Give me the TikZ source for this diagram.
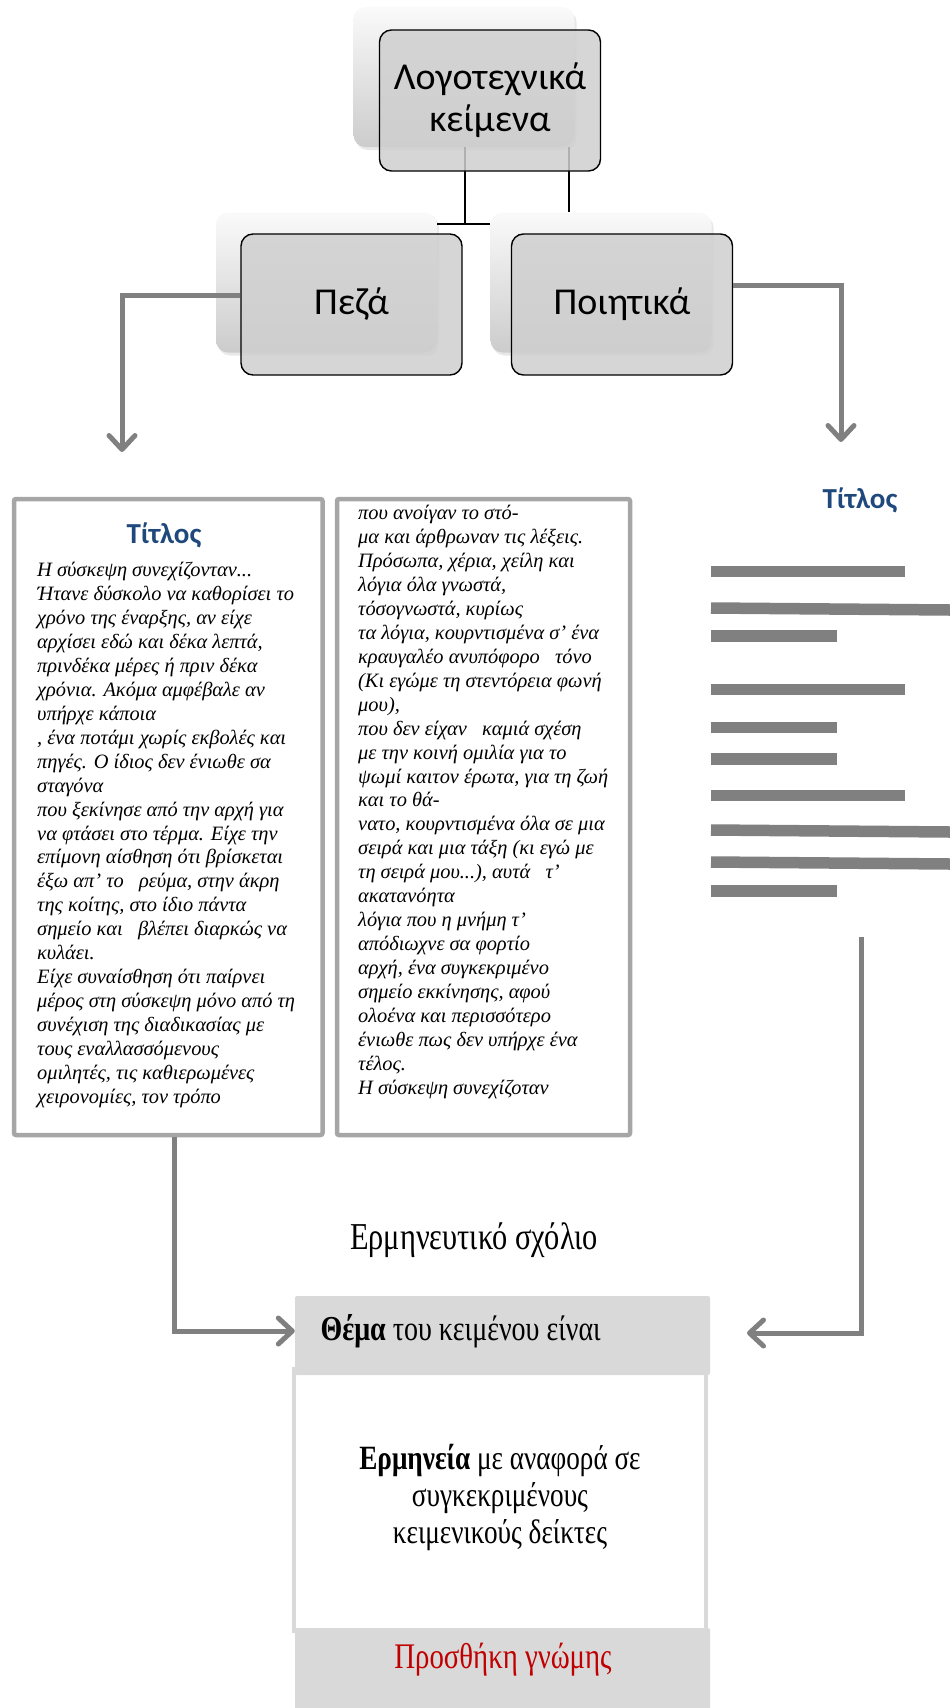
\documentclass[tikz,border=0pt]{standalone}
\usepackage{fontspec}
\setmainfont{Liberation Serif}
\newfontfamily\boxsans{Carlito}
\newfontfamily\narrowserif[FakeStretch=0.8]{Liberation Serif}
\usetikzlibrary{arrows.meta,shadows}
\definecolor{tilegray}{HTML}{CFCFCF}
\definecolor{framegray}{HTML}{A6A6A6}
\definecolor{arrowgray}{HTML}{808080}
\definecolor{bandgray}{HTML}{D9D9D9}
\definecolor{titleblue}{HTML}{1F497D}
\definecolor{opinionred}{HTML}{C00000}
\tikzset{
  ghost/.style={rounded corners=12pt, top color=white!98!black, bottom color=white!80!black,
                minimum width=221pt, minimum height=140pt,
                drop shadow={opacity=0.18, shadow xshift=2pt, shadow yshift=-3pt}},
  tile/.style={draw, line width=1.4pt, rounded corners=12pt, fill=tilegray, fill opacity=0.85,
               text opacity=1, minimum width=221pt, minimum height=141pt, align=center,
               font=\boxsans\fontsize{38}{42}\selectfont},
  textframe/.style={draw=framegray, line width=4.5pt, rounded corners=2pt, minimum height=636pt},
  prose/.style={anchor=north west, inner sep=0pt, align=left,
                font=\itshape\fontsize{20.4}{23.95}\selectfont},
  heading/.style={text=titleblue, font=\boxsans\bfseries\fontsize{29}{32}\selectfont},
  flow/.style={draw=arrowgray, line width=5pt, -{Straight Barb[length=14pt,width=26pt,round]}},
  bar/.style={draw=arrowgray, line width=11.5pt},
  band/.style={fill=bandgray, rounded corners=2pt, minimum width=415pt},
  commentary/.style={font=\narrowserif\fontsize{34}{37}\selectfont}
}

\begin{document}
\begin{tikzpicture}[x=1pt, y=-1pt]
  \useasboundingbox (0,0) rectangle (950,1708);
  % org chart
  \node[ghost] (litg) at (464,77) {};
  \node[ghost] (pezg) at (326.5,282.5) {};
  \node[ghost] (poig) at (601,282.5) {};
  \coordinate (bus) at (465,224);
  \coordinate (drop) at (569,212);
  \draw[line width=1.3pt] (litg.south -| bus) -- (bus);
  \draw[line width=1.3pt] (litg.south -| drop) -- (drop);
  \draw[line width=2pt] (pezg.east |- bus) -- (poig.west |- bus);
  \node[tile] (lit) at (490,100.5) {Λογοτεχνικά\\κείμενα};
  \node[tile] (pez) at (351.5,304.5) {Πεζά};
  \node[tile] (poi) at (622,304.5) {Ποιητικά};
  \coordinate (pezdown) at (122,452);
  \coordinate (poidown) at (841,442);
  \draw[flow] ([yshift=9.5pt]pez.west) -| (pezdown);
  \draw[flow] ([yshift=19.5pt]poi.east) -| (poidown);

  % prose sample
  \node[textframe, minimum width=308.5pt] (proseA) at (168.25,817) {};
  \node[textframe, minimum width=293pt] (proseB) at (483.5,817) {};
  \node[heading] (titleA) at (164,535) {Τίτλος};
  \node[prose] (textA) at (37,562) {Η σύσκεψη συνεχίζονταν...\\
    Ήτανε δύσκολο να καθορίσει το\\
    χρόνο της έναρξης, αν είχε\\
    αρχίσει εδώ και δέκα λεπτά,\\
    πρινδέκα μέρες ή πριν δέκα\\
    χρόνια. Ακόμα αμφέβαλε αν\\
    υπήρχε κάποια\\
    , ένα ποτάμι χωρίς εκβολές και\\
    πηγές. Ο ίδιος δεν ένιωθε σα\\
    σταγόνα\\
    που ξεκίνησε από την αρχή για\\
    να φτάσει στο τέρμα. Είχε την\\
    επίμονη αίσθηση ότι βρίσκεται\\
    έξω απ’ το\ \ \ ρεύμα, στην άκρη\\
    της κοίτης, στο ίδιο πάντα\\
    σημείο και\ \ \ βλέπει διαρκώς να\\
    κυλάει.\\
    Είχε συναίσθηση ότι παίρνει\\
    μέρος στη σύσκεψη μόνο από τη\\
    συνέχιση της διαδικασίας με\\
    τους εναλλασσόμενους\\
    ομιλητές, τις καθιερωμένες\\
    χειρονομίες, τον τρόπο};
  \node[prose] (textB) at (358,505) {που ανοίγαν το στό-\\
    μα και άρθρωναν τις λέξεις.\\
    Πρόσωπα, χέρια, χείλη και\\
    λόγια όλα γνωστά,\\
    τόσογνωστά, κυρίως\\
    τα λόγια, κουρντισμένα σ’ ένα\\
    κραυγαλέο ανυπόφορο\ \ \ τόνο\\
    (Κι εγώμε τη στεντόρεια φωνή\\
    μου),\\
    που δεν είχαν\ \ \ καμιά σχέση\\
    με την κοινή ομιλία για το\\
    ψωμί καιτον έρωτα, για τη ζωή\\
    και το θά-\\
    νατο, κουρντισμένα όλα σε μια\\
    σειρά και μια τάξη (κι εγώ με\\
    τη σειρά μου...), αυτά\ \ \ τ’\\
    ακατανόητα\\
    λόγια που η μνήμη τ’\\
    απόδιωχνε σα φορτίο\\
    αρχή, ένα συγκεκριμένο\\
    σημείο εκκίνησης, αφού\\
    ολοένα και περισσότερο\\
    ένιωθε πως δεν υπήρχε ένα\\
    τέλος.\\
    Η σύσκεψη συνεχίζοταν};

  % poem sample
  \node[heading] (titleC) at (860,500) {Τίτλος};
  \foreach \ya/\xb/\yb in {571.5/905/571.5, 608/950/610, 636/837/636, 689.5/905/689.5,
      727.5/837/727.5, 759/837/759, 795.5/905/795.5, 830/950/832, 862/950/864, 891/837/891}
    \draw[bar] (711,\ya) -- (\xb,\yb);

  % commentary
  \node[commentary, font=\narrowserif\fontsize{38}{40}\selectfont] (comment) at (474,1240)
    {Ερμηνευτικό σχόλιο};
  \node[draw=bandgray, line width=4.5pt, fill=white, minimum width=412pt, minimum height=262pt]
    (reading) at (500,1500) {};
  \node[band, minimum height=79pt] (theme) at (502.5,1335.5) {};
  \node[band, minimum height=84pt] (opinion) at (502.5,1670) {};
  \node[commentary, anchor=west, font=\narrowserif\fontsize{35}{38}\selectfont] (themetext)
    at (317,1331) {\textbf{Θέμα} του κειμένου είναι};
  \node[commentary, align=center] (readingtext) at (500,1497)
    {\textbf{Ερμηνεία} με αναφορά σε\\συγκεκριμένους\\κειμενικούς δείκτες};
  \node[commentary, text=opinionred, font=\narrowserif\fontsize{36}{38}\selectfont]
    (opiniontext) at (503,1660) {Προσθήκη γνώμης};
  \coordinate (lturn) at (174,1331);
  \coordinate (rtop) at (861,937);
  \coordinate (rturn) at (861,1333);
  \coordinate (rtip) at (747,1333);
  \draw[flow] (proseA.south -| lturn) -- (lturn) -- (theme.west |- lturn);
  \draw[flow] (rtop) -- (rturn) -- (rtip);
\end{tikzpicture}
\end{document}
